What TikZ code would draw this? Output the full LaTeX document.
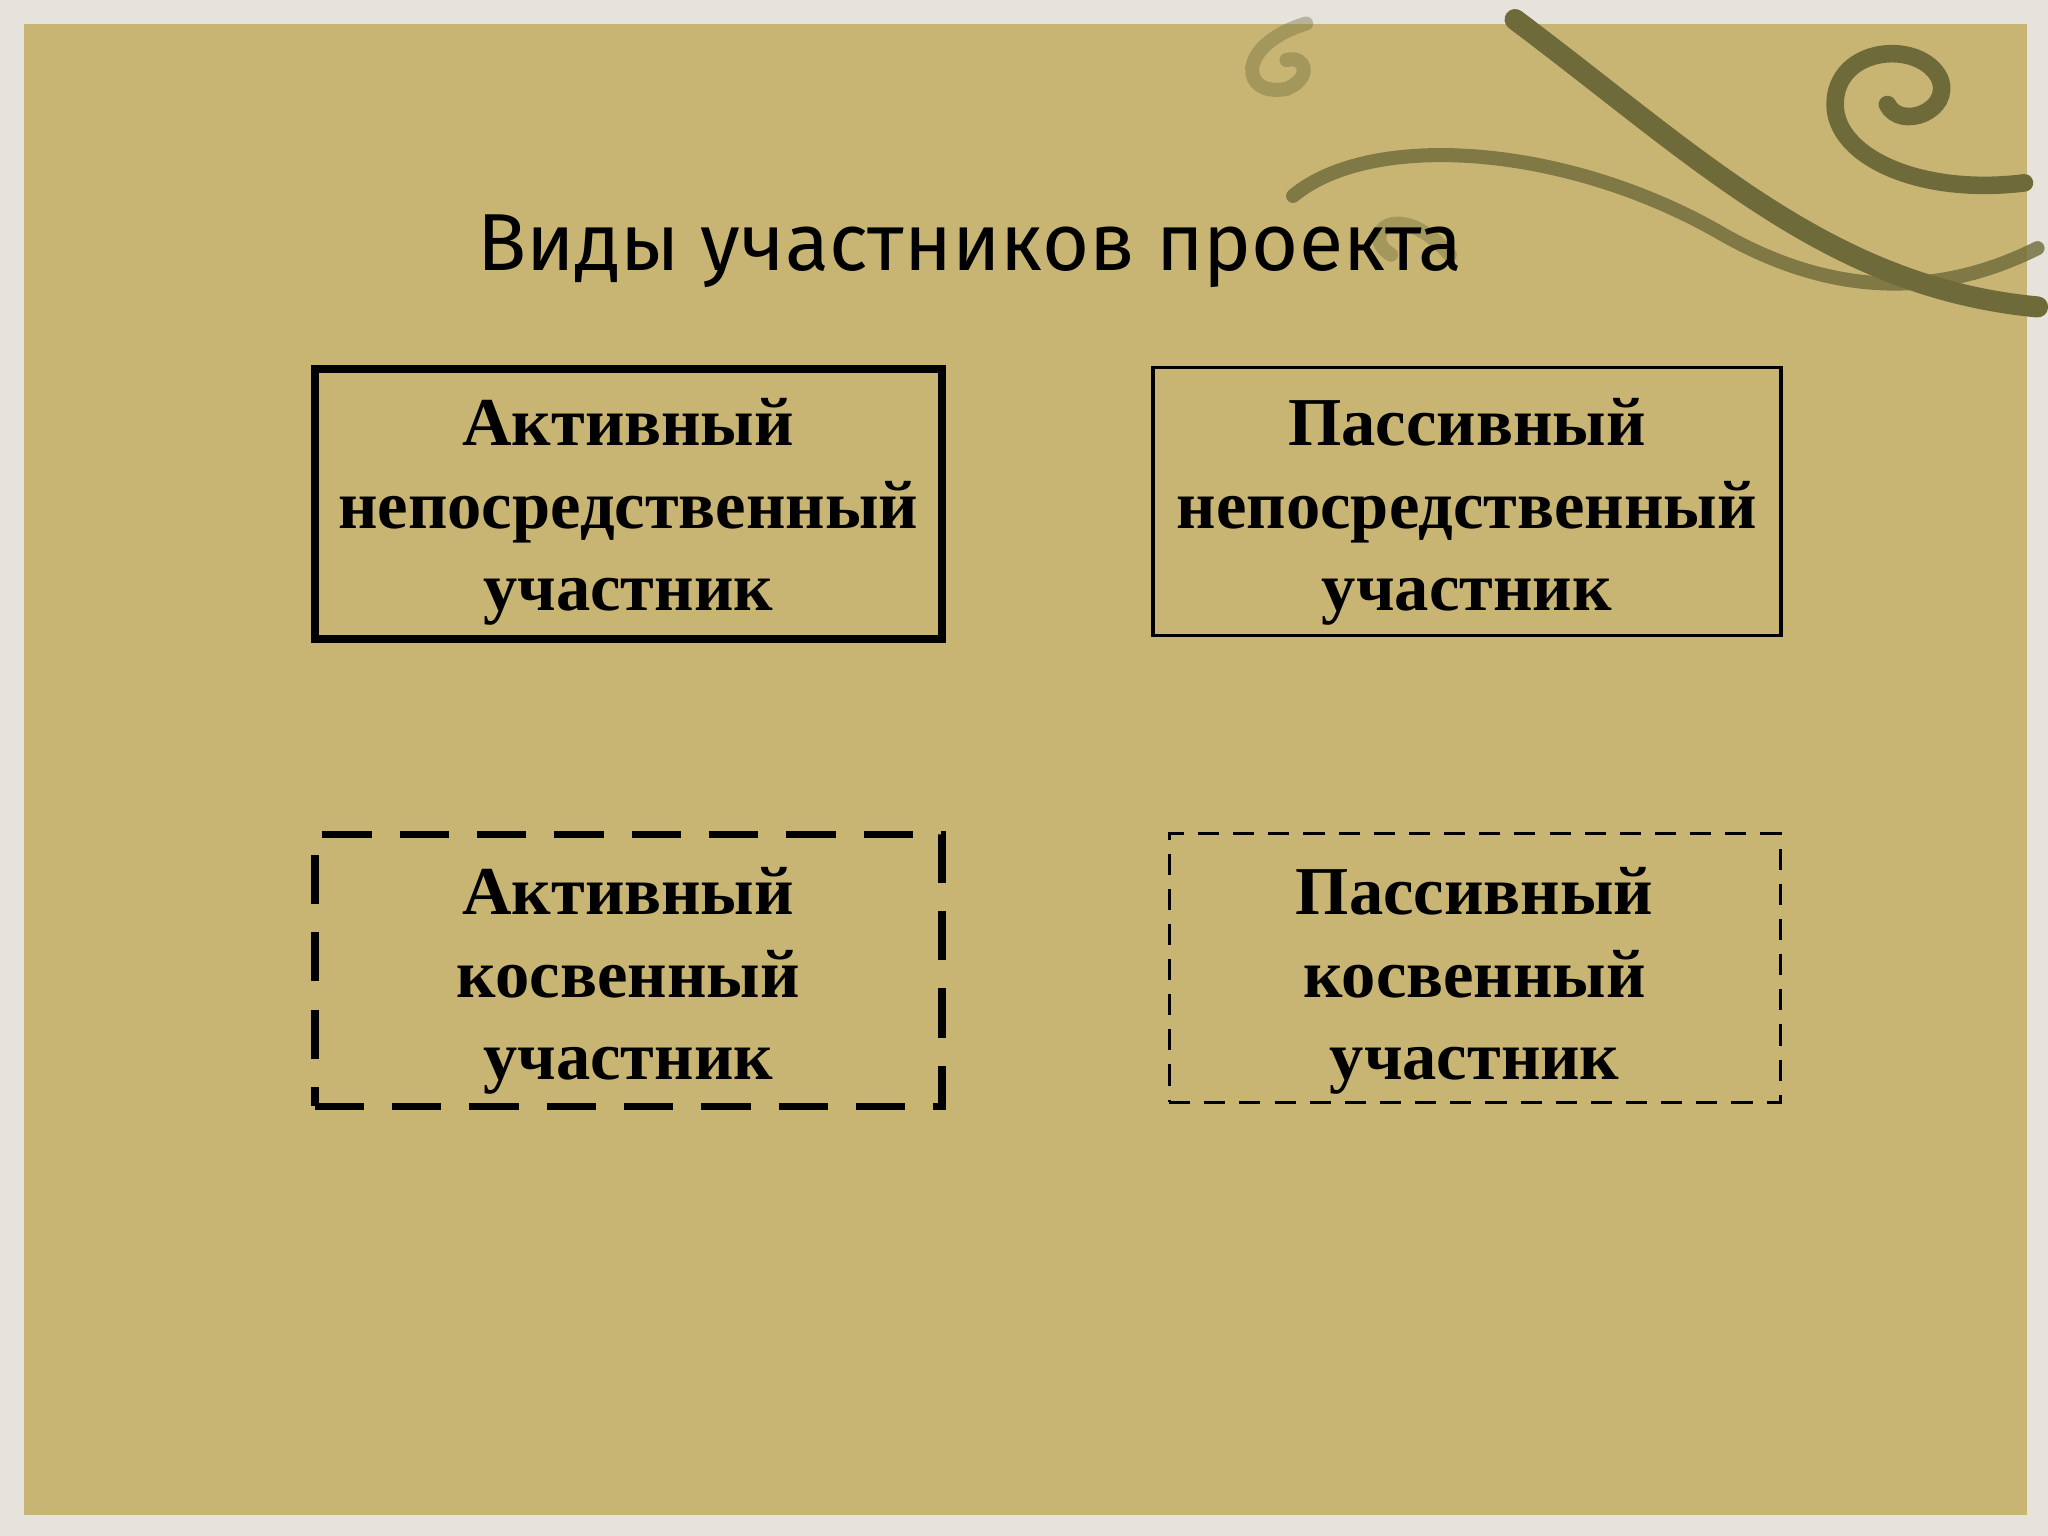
\documentclass[tikz,border=0pt]{standalone}
\usepackage{fontspec}
\setmainfont{Liberation Serif}
\newfontfamily\titlefont{Fira Sans}
\begin{document}
\begin{tikzpicture}[x=0.01306cm,y=-0.01306cm,
  box/.style={align=center,font=\bfseries\fontsize{19.5}{23.5}\selectfont,inner sep=0pt},
  boxtxt/.style={yshift=-0.08cm},
  swirl/.style={draw=olivec,line cap=round}]
\definecolor{tan}{HTML}{C8B574}
\definecolor{olivec}{HTML}{6E6A3A}
\definecolor{edge}{HTML}{E6E3DC}
\useasboundingbox (0,0) rectangle (1568,1176);
\fill[edge] (0,0) rectangle (1568,1176);
\fill[tan] (18,18) rectangle (1552,1160);
% swirls
\draw[swirl,line width=6pt] (1160,15) .. controls (1300,120) and (1400,220) .. (1560,235);
\draw[swirl,line width=4pt,opacity=0.8] (990,150) .. controls (1050,100) and (1200,110) .. (1320,180) .. controls (1400,225) and (1480,230) .. (1560,190);
\draw[swirl,line width=5pt] (1550,140) .. controls (1470,150) and (1405,120) .. (1405,80) .. controls (1405,35) and (1470,30) .. (1485,60) .. controls (1495,85) and (1455,100) .. (1445,80);
\draw[swirl,line width=4pt,opacity=0.4] (1000,18) .. controls (945,35) and (950,75) .. (985,68) .. controls (1005,60) and (1000,42) .. (985,46);
\draw[swirl,line width=4pt,opacity=0.4] (1110,195) .. controls (1070,150) and (1040,180) .. (1065,195);
\node[font=\titlefont\fontsize{23}{27}\selectfont,anchor=west] (title) at (356,192) {Виды участников проекта};
\node[box,draw,line width=2.2pt,minimum width=6.27cm,minimum height=2.7cm] (a) at (481,386) {};
\node[box,boxtxt] (at) at (a) {Активный\\непосредственный\\участник};
\node[box,draw,line width=1pt,minimum width=6.28cm,minimum height=2.68cm] (b) at (1123,384) {};
\node[box,boxtxt] (bt) at (1123,386) {Пассивный\\непосредственный\\участник};
\node[box,draw,line width=2.2pt,dash pattern=on 14pt off 8pt,minimum width=6.27cm,minimum height=2.72cm] (c) at (481,743) {};
\node[box,boxtxt] (ct) at (481,745) {Активный\\косвенный\\участник};
\node[box,draw,line width=0.9pt,dash pattern=on 6pt off 4pt,minimum width=6.11cm,minimum height=2.69cm] (d) at (1129,741) {};
\node[box,boxtxt] (dt) at (1129,745) {Пассивный\\косвенный\\участник};
\end{tikzpicture}
\end{document}
